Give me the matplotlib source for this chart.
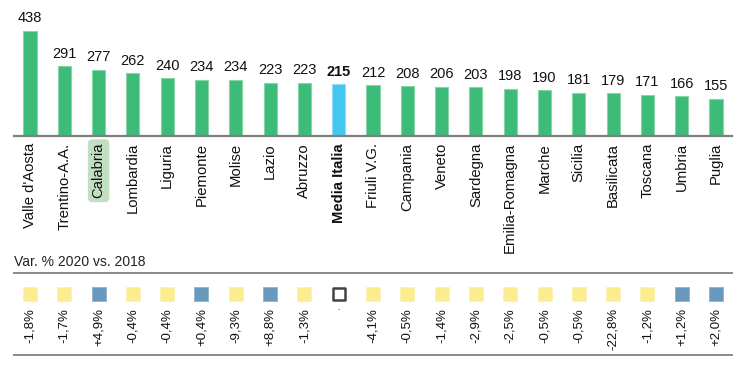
import matplotlib
matplotlib.use("Agg")
import matplotlib.pyplot as plt

plt.rcParams['font.family'] = ['Liberation Sans', 'DejaVu Sans']

regions = ["Valle d'Aosta", "Trentino-A.A.", "Calabria", "Lombardia", "Liguria",
           "Piemonte", "Molise", "Lazio", "Abruzzo", "Media Italia", "Friuli V.G.",
           "Campania", "Veneto", "Sardegna", "Emilia-Romagna", "Marche", "Sicilia",
           "Basilicata", "Toscana", "Umbria", "Puglia"]
values = [438, 291, 277, 262, 240, 234, 234, 223, 223, 215, 212,
          208, 206, 203, 198, 190, 181, 179, 171, 166, 155]
var_labels = ["-1,8%", "-1,7%", "+4,9%", "-0,4%", "-0,4%", "+0,4%", "-9,3%", "+8,8%",
              "-1,3%", "-", "-4,1%", "-0,5%", "-1,4%", "-2,9%", "-2,5%", "-0,5%",
              "-0,5%", "-22,8%", "-1,2%", "+1,2%", "+2,0%"]
avg_label = "Media Italia"
highlight_label = "Calabria"
subtitle = "Var. % 2020 vs. 2018"

W, H = 750, 372
fig = plt.figure(figsize=(W / 100, H / 100), dpi=100)

GREEN = '#3dbb78'
GREEN_EDGE = '#86d6a6'
LIGHTBLUE = '#42c8f0'
YELLOW = '#fbec90'
STEEL = '#6899bd'
GRAY = '#7f7f7f'

x0, x1 = 14, 732
base_y = 136
n = len(regions)
xs = list(range(n))
xlim = (-0.466, n - 1 + 0.466)

# Bar axes
ax1 = fig.add_axes([x0 / W, 1 - base_y / H, (x1 - x0) / W, base_y / H])
colors = [LIGHTBLUE if r == avg_label else GREEN for r in regions]
edges = ['#8fdcf5' if r == avg_label else GREEN_EDGE for r in regions]
ax1.bar(xs, values, width=0.38, color=colors, edgecolor=edges, linewidth=0.8, zorder=2)
ax1.set_xlim(*xlim)
ax1.set_ylim(0, 567)
for s in ['top', 'right', 'left']:
    ax1.spines[s].set_visible(False)
ax1.spines['bottom'].set_color(GRAY)
ax1.spines['bottom'].set_linewidth(1.6)
ax1.spines['bottom'].set_zorder(3)
ax1.set_yticks([])
ax1.set_xticks(xs)
ax1.set_xticklabels(regions, rotation=90, fontsize=10.7, color='#111111')
ax1.tick_params(axis='x', length=0, pad=5)
for lab in ax1.get_xticklabels():
    if lab.get_text() == avg_label:
        lab.set_fontweight('bold')
    if lab.get_text() == highlight_label:
        lab.set_bbox(dict(boxstyle='round,pad=0.25,rounding_size=0.3', fc='#c3dfc3', ec='none'))

for x, v, r in zip(xs, values, regions):
    ax1.annotate(str(v), (x, v), xytext=(0, 4), textcoords='offset points',
                 ha='center', va='bottom', fontsize=10.5, color='#111111',
                 fontweight='bold' if r == avg_label else 'normal', clip_on=False)

# Subtitle
fig.text(x0 / W, 1 - 262 / H, subtitle, fontsize=10, color='#222222', va='center', ha='left')

# Variation axes
top2, bot2 = 273, 355
ax2 = fig.add_axes([x0 / W, 1 - bot2 / H, (x1 - x0) / W, (bot2 - top2) / H])
ax2.set_xlim(*xlim)
ax2.set_ylim(0, 1)
for s in ['left', 'right']:
    ax2.spines[s].set_visible(False)
for s in ['top', 'bottom']:
    ax2.spines[s].set_color('#8a8a8a')
    ax2.spines[s].set_linewidth(1.4)
ax2.set_xticks([])
ax2.set_yticks([])

sq_y = 0.74
for x, lab in zip(xs, var_labels):
    if lab == '-':
        fc, ec, lw, side = 'white', '#444444', 1.8, 12.5
    elif lab.startswith('+'):
        fc, ec, lw, side = STEEL, '#8fb4cf', 0.6, 13.5
    else:
        fc, ec, lw, side = YELLOW, '#fcf1b5', 0.6, 13.5
    ax2.scatter([x], [sq_y], marker='s', s=(side * 0.72) ** 2, c=fc, edgecolors=ec,
                linewidths=lw, zorder=3)
    if lab == '-':
        ax2.text(x, 0.60, lab, ha='center', va='top', fontsize=5, color='#444444')
    else:
        ax2.text(x, 0.575, lab, rotation=90, ha='center', va='top', fontsize=9.5,
                 color='#111111')

fig.savefig('out.png', dpi=100)
